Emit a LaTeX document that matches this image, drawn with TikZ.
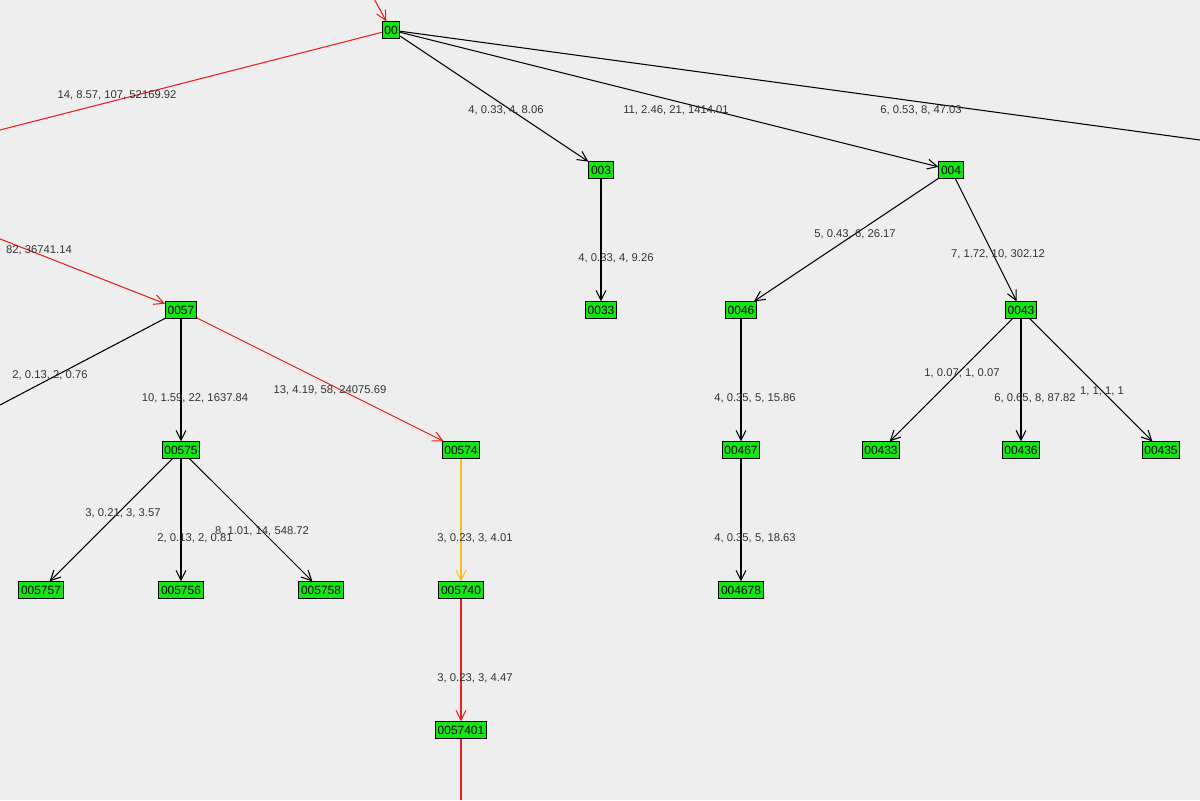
\documentclass[tikz,border=0pt]{standalone}
\usepackage{fontspec}
\setmainfont{Liberation Sans}
\usetikzlibrary{arrows.meta}
\definecolor{bgcol}{RGB}{238,238,238}
\definecolor{nodegreen}{RGB}{20,230,20}
\definecolor{edgered}{RGB}{235,30,30}
\definecolor{edgeyellow}{RGB}{245,190,30}
\tikzset{
every picture/.style={
line width=0.75pt
}}
\begin{document}
\begin{tikzpicture}[x=0.025cm, y=-0.025cm,
tnode/.style = {rectangle, draw=black, fill=nodegreen, inner sep=1.5pt, minimum height=11.5pt, font=\fontsize{8.5}{9}\selectfont},
lbl/.style = {font=\fontsize{8}{9}\selectfont, text=black!80},
edge/.style = {-{Straight Barb[length=7pt,width=7pt]}},
hot/.style = {edge, draw=edgered},
warm/.style = {edge, draw=edgeyellow}]

\fill[bgcol] (0,0) rectangle (1200,800);
\useasboundingbox (0,0) rectangle (1200,800);

\node [tnode] at (391,30) (n00) {00}; 
\node [tnode] at (601,170) (n003) {003}; 
\node [tnode] at (951,170) (n004) {004}; 
\node [tnode] at (601,310) (n0033) {0033}; 
\node [tnode] at (181,310) (n0057) {0057}; 
\node [tnode] at (741,310) (n0046) {0046}; 
\node [tnode] at (1021,310) (n0043) {0043}; 
\node [tnode] at (181,450) (n00575) {00575}; 
\node [tnode] at (461,450) (n00574) {00574}; 
\node [tnode] at (741,450) (n00467) {00467}; 
\node [tnode] at (881,450) (n00433) {00433}; 
\node [tnode] at (1021,450) (n00436) {00436}; 
\node [tnode] at (1161,450) (n00435) {00435}; 
\node [tnode] at (41,590) (n005757) {005757}; 
\node [tnode] at (181,590) (n005756) {005756}; 
\node [tnode] at (321,590) (n005758) {005758}; 
\node [tnode] at (461,590) (n005740) {005740}; 
\node [tnode] at (741,590) (n004678) {004678}; 
\node [tnode] at (461,730) (n0057401) {0057401}; 

\coordinate (intop) at (372,-5); 
\coordinate (outleft) at (0,130); 
\coordinate (outright) at (1200,140); 
\coordinate (inleft) at (-10,235); 
\coordinate (outlow) at (0,405); 
\coordinate (outbottom) at (461,800); 

\draw[hot] (intop) -- (n00); 
\draw[edgered] (n00) -- (outleft); 
\draw (n00) -- (outright); 
\draw[edge] (n00) -- (n003); 
\draw[edge] (n00) -- (n004); 
\draw[edge] (n003) -- (n0033); 
\draw[edge] (n004) -- (n0046); 
\draw[edge] (n004) -- (n0043); 
\draw[hot] (inleft) -- (n0057); 
\draw (n0057) -- (outlow); 
\draw[edge] (n0057) -- (n00575); 
\draw[hot] (n0057) -- (n00574); 
\draw[edge] (n00575) -- (n005757); 
\draw[edge] (n00575) -- (n005756); 
\draw[edge] (n00575) -- (n005758); 
\draw[warm] (n00574) -- (n005740); 
\draw[hot] (n005740) -- (n0057401); 
\draw[edgered] (n0057401) -- (outbottom); 
\draw[edge] (n0046) -- (n00467); 
\draw[edge] (n00467) -- (n004678); 
\draw[edge] (n0043) -- (n00433); 
\draw[edge] (n0043) -- (n00436); 
\draw[edge] (n0043) -- (n00435); 

\node [lbl] at (117,95) (l1) {14, 8.57, 107, 52169.92}; 
\node [lbl] at (506,110) (l2) {4, 0.33, 4, 8.06}; 
\node [lbl] at (676,110) (l3) {11, 2.46, 21, 1414.01}; 
\node [lbl] at (921,110) (l4) {6, 0.53, 8, 47.03}; 
\node [lbl, anchor=west] at (1,250) (l5) {82, 36741.14}; 
\node [lbl] at (616,258) (l6) {4, 0.33, 4, 9.26}; 
\node [lbl] at (855,234) (l7) {5, 0.43, 6, 26.17}; 
\node [lbl] at (998,254) (l8) {7, 1.72, 10, 302.12}; 
\node [lbl] at (50,375) (l9) {2, 0.13, 2, 0.76}; 
\node [lbl] at (195,398) (l10) {10, 1.59, 22, 1637.84}; 
\node [lbl] at (330,390) (l11) {13, 4.19, 58, 24075.69}; 
\node [lbl] at (755,398) (l12) {4, 0.35, 5, 15.86}; 
\node [lbl] at (962,373) (l13) {1, 0.07, 1, 0.07}; 
\node [lbl] at (1035,398) (l14) {6, 0.65, 8, 87.82}; 
\node [lbl] at (1102,391) (l15) {1, 1, 1, 1}; 
\node [lbl] at (123,513) (l16) {3, 0.21, 3, 3.57}; 
\node [lbl] at (195,538) (l17) {2, 0.13, 2, 0.81}; 
\node [lbl] at (262,531) (l18) {8, 1.01, 14, 548.72}; 
\node [lbl] at (475,538) (l19) {3, 0.23, 3, 4.01}; 
\node [lbl] at (755,538) (l20) {4, 0.35, 5, 18.63}; 
\node [lbl] at (475,678) (l21) {3, 0.23, 3, 4.47}; 

\end{tikzpicture}
\end{document}
